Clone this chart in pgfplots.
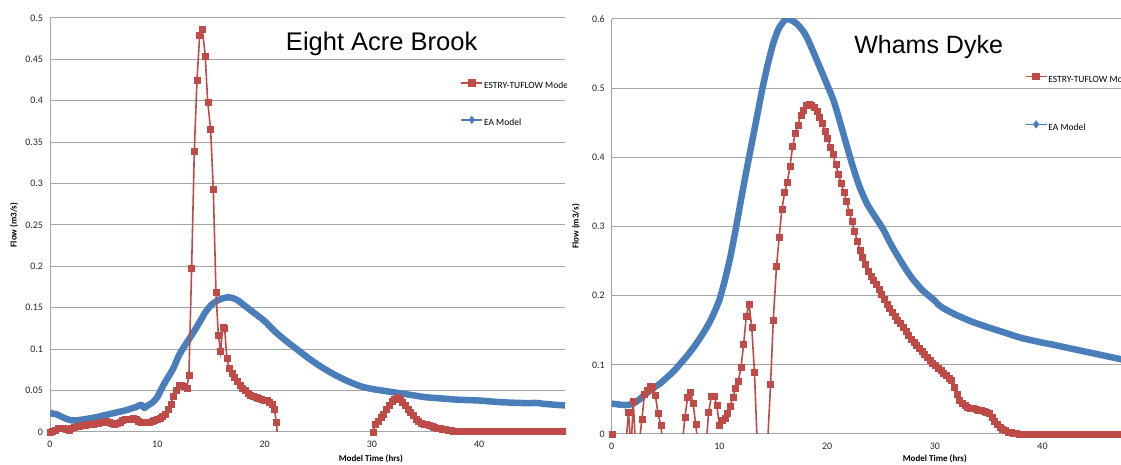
\documentclass[border=0pt]{standalone}
\usepackage{fontspec}
\setmainfont{Carlito}
\newfontfamily\arialf{Liberation Sans}
\usepackage{pgfplots}
\usepackage{pgfplotstable}
\pgfplotsset{compat=1.18}
\definecolor{eablue}{RGB}{74,126,187}
\definecolor{esred}{RGB}{190,75,72}
\definecolor{gridgray}{RGB}{165,165,165}

\pgfplotstableread{
t v
0 0.024
0.25 0.022
0.5 0.022
1 0.019
1.5 0.016
2 0.014
2.5 0.014
3 0.015
3.5 0.016
4 0.017
5 0.020
6 0.023
7 0.026
7.5 0.028
8 0.030
8.5 0.033
8.8 0.029
9.1 0.032
9.5 0.035
10 0.042
10.5 0.055
11 0.066
11.5 0.077
12 0.092
12.5 0.103
13 0.113
13.5 0.123
14 0.134
14.5 0.145
15 0.153
15.5 0.158
16 0.161
16.5 0.1625
17 0.162
17.5 0.159
18 0.154
18.5 0.149
19 0.144
20 0.134
21 0.121
22 0.110
23 0.100
24 0.090
25 0.081
26 0.073
27 0.066
28 0.060
29 0.055
30 0.052
31 0.050
32 0.048
33 0.046
34 0.044
35 0.042
36 0.041
37 0.040
38 0.039
40 0.038
42 0.036
44 0.035
45.5 0.035
46 0.034
48 0.032
}\eaLeft

\pgfplotstableread{
t v
0 0.000
0.25 0.001
0.5 0.002
0.75 0.004
1.0 0.004
1.25 0.005
1.5 0.003
1.75 0.002
2.0 0.005
2.25 0.006
2.5 0.007
2.75 0.007
3.0 0.008
3.25 0.008
3.5 0.009
3.75 0.010
4.0 0.010
4.25 0.011
4.5 0.011
4.75 0.012
5.0 0.012
5.25 0.013
5.5 0.012
5.75 0.011
6.0 0.010
6.25 0.011
6.5 0.012
6.75 0.014
7.0 0.015
7.25 0.016
7.5 0.016
7.75 0.017
8.0 0.015
8.25 0.013
8.5 0.012
8.75 0.012
9.0 0.012
9.25 0.012
9.5 0.013
9.75 0.014
10.0 0.015
10.25 0.017
10.5 0.019
10.75 0.022
11.0 0.027
11.25 0.034
11.5 0.043
11.75 0.050
12.0 0.056
12.25 0.057
12.5 0.055
12.75 0.053
12.95 0.069
13.2 0.198
13.45 0.339
13.7 0.425
13.95 0.479
14.2 0.486
14.47 0.454
14.7 0.398
14.97 0.366
15.22 0.293
15.47 0.169
15.69 0.117
15.9 0.097
16.1 0.126
16.28 0.125
16.48 0.089
16.7 0.077
16.95 0.071
17.2 0.066
17.45 0.061
17.7 0.057
17.95 0.053
18.2 0.050
18.45 0.047
18.7 0.045
18.95 0.043
19.2 0.042
19.45 0.041
19.7 0.040
19.95 0.039
20.2 0.038
20.45 0.036
20.7 0.033
20.9 0.028
21.1 0.012
21.35 -0.03
25 -0.05
29.85 -0.03
30.1 0.000
30.35 0.010
30.6 0.013
30.85 0.018
31.1 0.022
31.35 0.027
31.6 0.032
31.85 0.037
32.1 0.040
32.35 0.042
32.6 0.040
32.85 0.036
33.1 0.032
33.35 0.028
33.6 0.024
33.85 0.020
34.1 0.016
34.35 0.013
34.6 0.011
34.85 0.010
35.1 0.009
35.35 0.008
35.6 0.007
35.85 0.006
36.1 0.005
36.35 0.004
36.6 0.003
36.85 0.003
37.1 0.002
37.35 0.002
37.6 0.001
37.85 0.001
38.1 0.001
38.35 0.001
38.6 0.001
38.85 0.001
39.1 0.001
39.35 0.001
39.6 0.001
39.85 0.001
40.1 0.001
40.35 0.001
40.6 0.001
40.85 0.001
41.1 0.001
41.35 0.001
41.6 0.001
41.85 0.001
42.1 0.001
42.35 0.001
42.6 0.001
42.85 0.001
43.1 0.001
43.35 0.001
43.6 0.001
43.85 0.001
44.1 0.001
44.35 0.001
44.6 0.001
44.85 0.001
45.1 0.001
45.35 0.001
45.6 0.001
45.85 0.001
46.1 0.001
46.35 0.001
46.6 0.001
46.85 0.001
47.1 0.001
47.35 0.001
47.6 0.001
47.85 0.001
48.1 0.001
}\esLeft

\pgfplotstableread{
t v
0 0.044
0.5 0.043
1 0.042
1.5 0.042
2 0.044
2.5 0.049
3 0.056
3.5 0.062
4 0.068
4.5 0.073
5 0.080
5.5 0.087
6 0.095
6.5 0.104
7 0.113
7.5 0.123
8 0.134
8.5 0.146
9 0.159
9.5 0.175
10 0.194
10.5 0.222
11 0.255
11.5 0.295
12 0.338
12.5 0.380
13 0.420
13.5 0.460
14 0.500
14.5 0.535
15 0.565
15.5 0.586
16 0.597
16.3 0.600
16.7 0.598
17.2 0.593
17.7 0.584
18.1 0.574
18.7 0.553
19.3 0.531
20 0.505
20.6 0.482
21.2 0.451
21.8 0.418
22.4 0.386
23 0.358
23.7 0.333
24.5 0.313
25.2 0.296
26 0.272
26.8 0.251
27.4 0.236
28 0.223
28.9 0.207
29.9 0.194
30.4 0.186
31 0.180
32 0.172
33.5 0.162
35 0.154
36.6 0.146
38 0.139
39.7 0.133
41 0.129
42.8 0.123
44 0.119
45.5 0.114
47.3 0.108
48 0.106
}\eaRight

\pgfplotstableread{
t v
0 0
0.25 -0.04
0.5 -0.06
0.75 -0.06
1.0 -0.05
1.3 -0.02
1.55 0.032
1.8 -0.02
2.0 0.047
2.25 -0.03
2.5 -0.02
2.8 0.021
3.05 0.058
3.3 0.064
3.55 0.069
3.8 0.068
4.05 0.056
4.3 0.030
4.55 0.013
4.8 -0.02
5.5 -0.05
6.3 -0.04
6.55 -0.015
6.8 0.025
7.05 0.053
7.3 0.061
7.55 0.045
7.8 0.014
8.05 -0.02
8.5 -0.04
8.75 -0.02
9.0 0.032
9.25 0.054
9.5 0.055
9.75 0.042
10.0 0.013
10.25 0.020
10.5 0.023
10.75 0.030
11.0 0.040
11.25 0.053
11.5 0.066
11.75 0.076
12.0 0.096
12.25 0.130
12.5 0.171
12.75 0.188
13.0 0.155
13.25 0.090
13.5 -0.01
13.75 -0.06
14.25 -0.05
14.5 -0.005
14.75 0.072
15.0 0.165
15.3 0.242
15.55 0.285
15.8 0.325
16.05 0.349
16.3 0.364
16.55 0.387
16.8 0.416
17.05 0.435
17.3 0.447
17.55 0.461
17.8 0.468
18.05 0.475
18.3 0.477
18.55 0.476
18.8 0.472
19.05 0.466
19.3 0.458
19.55 0.449
19.8 0.438
20.05 0.427
20.3 0.415
20.55 0.404
20.8 0.390
21.05 0.376
21.3 0.362
21.55 0.350
21.8 0.337
22.05 0.321
22.3 0.307
22.55 0.293
22.8 0.279
23.05 0.266
23.3 0.255
23.55 0.245
23.8 0.235
24.05 0.228
24.3 0.222
24.55 0.216
24.8 0.210
25.05 0.202
25.3 0.195
25.55 0.188
25.8 0.182
26.05 0.176
26.3 0.171
26.55 0.165
26.8 0.160
27.05 0.154
27.3 0.148
27.55 0.143
27.8 0.137
28.05 0.132
28.3 0.128
28.55 0.124
28.8 0.120
29.05 0.115
29.3 0.111
29.55 0.107
29.8 0.103
30.05 0.099
30.3 0.095
30.55 0.092
30.8 0.088
31.05 0.085
31.3 0.081
31.55 0.078
31.8 0.068
32.05 0.057
32.3 0.049
32.55 0.044
32.8 0.041
33.05 0.039
33.3 0.038
33.55 0.037
33.8 0.036
34.05 0.035
34.3 0.034
34.55 0.033
34.8 0.032
35.05 0.030
35.3 0.025
35.55 0.019
35.8 0.014
36.05 0.010
36.3 0.007
36.55 0.005
36.8 0.003
37.05 0.002
37.3 0.001
37.55 0.0005
37.8 0
38.05 0
38.3 0
38.55 0
38.8 0
39.05 0
39.3 0
39.55 0
39.8 0
40.05 0
40.3 0
40.55 0
40.8 0
41.05 0
41.3 0
41.55 0
41.8 0
42.05 0
42.3 0
42.55 0
42.8 0
43.05 0
43.3 0
43.55 0
43.8 0
44.05 0
44.3 0
44.55 0
44.8 0
45.05 0
45.3 0
45.55 0
45.8 0
46.05 0
46.3 0
46.55 0
46.8 0
47.05 0
47.3 0
47.55 0
47.8 0
48.05 0
}\esRight

\pgfplotsset{
 excel/.style={
  scale only axis,
  axis lines*=left,
  axis line style={gridgray, line width=1bp},
  ymajorgrids,
  grid style={gridgray, line width=1bp},
  major tick length=0pt,
  tick label style={font=\fontsize{10bp}{12bp}\selectfont, text=black!85},
  /pgf/number format/assume math mode=true,
  yticklabel style={/pgf/number format/fixed, /pgf/number format/precision=2, xshift=-3.5bp},
  xticklabel style={yshift=-5bp},
  xtick={0,10,20,30,40},
  xmin=0, xmax=48, ymin=0,
  label style={font=\bfseries\fontsize{9bp}{11bp}\selectfont},
  xlabel={Model Time (hrs)},
  ylabel={Flow (m3/s)},
  legend cell align=left,
  legend image code/.code={\draw[yshift=3.2bp,mark repeat=2,mark phase=2,##1] plot coordinates {(0bp,0bp) (10.5bp,0bp) (21bp,0bp)};},
 },
 eastyle/.style={eablue, line width=6.5bp, no marks, line join=round, smooth, tension=0.4},
 esline/.style={esred, line width=1.6bp, no marks},
 esmarks/.style={esred, only marks, mark=square*, mark size=3bp, mark options={fill=esred, draw=esred, line width=0.4bp}, restrict y to domain=-0.0001:1},
}

\begin{document}
\begin{tikzpicture}[x=1bp,y=1bp]
\begin{scope}
\clip (0,0) rectangle (566,465);
\begin{axis}[excel,
  at={(50bp,33bp)}, anchor=south west,
  width=515bp, height=414bp,
  ymax=0.5, ytick={0,0.05,...,0.5},
  xlabel style={at={(axis description cs:0.623,-0.0652)}, anchor=center},
  ylabel style={at={(axis description cs:-0.0699,0.5)}, anchor=center, rotate=0},
  title={Eight Acre Brook},
  title style={at={(axis description cs:0.644,0.9065)}, anchor=base, font=\arialf\fontsize{25.5bp}{30bp}\selectfont},
  legend style={at={(axis description cs:0.791,0.855)}, anchor=north west, draw=none, fill=none,
    font=\fontsize{9.5bp}{11bp}\selectfont, row sep=26bp, column sep=1bp,
    nodes={inner sep=0pt, text height=7bp, text depth=2bp}},
]
\addlegendimage{esred, line width=1.5bp, mark=square*, mark size=3bp, mark options={fill=esred}}
\addlegendentry{ESTRY-TUFLOW Model}
\addlegendimage{eablue, line width=1.5bp, mark=diamond*, mark size=3bp, mark options={fill=eablue}}
\addlegendentry{EA Model}
\addplot[eastyle, forget plot] table {\eaLeft};
\addplot[esline, forget plot] table {\esLeft};
\addplot[esmarks, forget plot] table {\esLeft};
\end{axis}
\end{scope}
\begin{scope}
\clip (566,0) rectangle (1121,465);
\begin{axis}[excel,
  at={(611.7bp,31bp)}, anchor=south west,
  width=517bp, height=415bp,
  ymax=0.6, ytick={0,0.1,...,0.6},
  xlabel style={at={(axis description cs:0.625,-0.060)}, anchor=center},
  ylabel style={at={(axis description cs:-0.069,0.5)}, anchor=center, rotate=0},
  title={Whams Dyke},
  title style={at={(axis description cs:0.613,0.903)}, anchor=base, font=\arialf\fontsize{25bp}{30bp}\selectfont},
  legend style={at={(axis description cs:0.793,0.874)}, anchor=north west, draw=none, fill=none,
    font=\fontsize{9.5bp}{11bp}\selectfont, row sep=37.2bp, column sep=1bp,
    nodes={inner sep=0pt, text height=7bp, text depth=2bp}},
]
\addlegendimage{esred, line width=1.5bp, mark=square*, mark size=3bp, mark options={fill=esred}}
\addlegendentry{ESTRY-TUFLOW Model}
\addlegendimage{eablue, line width=1.5bp, mark=diamond*, mark size=3bp, mark options={fill=eablue}}
\addlegendentry{EA Model}
\addplot[eastyle, forget plot] table {\eaRight};
\addplot[esline, forget plot] table {\esRight};
\addplot[esmarks, forget plot] table {\esRight};
\end{axis}
\end{scope}
\pgfresetboundingbox
\path[use as bounding box] (0,0) rectangle (1121,465);
\end{tikzpicture}
\end{document}
